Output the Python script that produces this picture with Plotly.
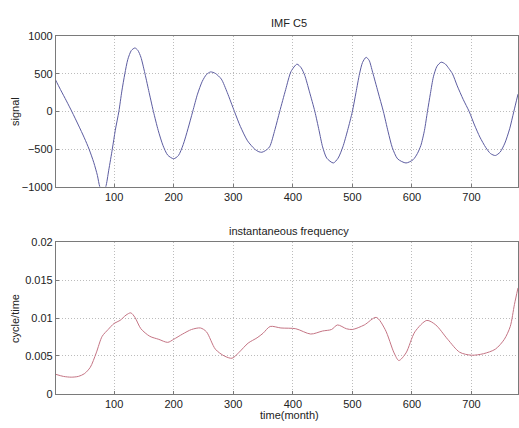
import plotly.graph_objects as go

# ---- data ----
sig_x = [1, 10, 20, 29, 40, 50, 58, 66, 72, 76, 81, 86, 91, 97, 102, 108, 113, 118, 123, 129,
         135, 140, 145, 151, 158, 166, 174, 182, 190, 200, 208, 216, 224, 232, 240, 248, 255,
         262, 270, 280, 290, 302, 312, 324, 336, 343, 348, 354, 361, 370, 378, 388, 397, 407,
         414, 420, 428, 437, 444, 450, 457, 468, 476, 484, 492, 500, 506, 512, 517, 523, 528,
         534, 543, 552, 560, 567, 576, 590, 602, 609, 615, 621, 626, 631, 636, 642, 649, 656,
         662, 668, 676, 686, 696, 705, 714, 724, 732, 740, 748, 756, 764, 771, 778]
sig_y = [430, 290, 140, 0, -180, -350, -500, -680, -850, -1000, -1070, -1000, -780, -500, -250,
         0, 270, 500, 690, 810, 843, 810, 720, 530, 280, 0, -250, -450, -580, -628, -585, -440,
         -230, 0, 230, 400, 490, 525, 505, 430, 250, 0, -200, -390, -500, -535, -542, -520,
         -470, -240, 0, 290, 530, 628, 580, 480, 260, 0, -250, -470, -620, -684, -620, -470,
         -250, 0, 250, 500, 650, 719, 680, 520, 260, 0, -270, -480, -630, -684, -640, -560,
         -450, -250, 0, 240, 460, 600, 654, 630, 570, 500, 340, 160, 0, -180, -340, -480, -560,
         -585, -540, -420, -230, 0, 230]

frq_x = [1, 15, 28, 40, 50, 60, 70, 80, 90, 100, 110, 120, 128, 135, 145, 160, 175, 190, 200,
         215, 230, 245, 255, 270, 285, 298, 310, 325, 340, 350, 362, 380, 405, 430, 450, 465,
         475, 490, 500, 520, 540, 555, 570, 578, 590, 605, 625, 640, 660, 680, 700, 720, 740,
         755, 765, 772, 778]
frq_y = [0.0026, 0.0023, 0.0022, 0.0023, 0.00265, 0.0035, 0.0054, 0.0076, 0.0085, 0.0093,
         0.0097, 0.0104, 0.0107, 0.0101, 0.0086, 0.0076, 0.0072, 0.0068, 0.0072, 0.0079,
         0.0085, 0.0087, 0.0082, 0.0059, 0.0050, 0.0047, 0.0055, 0.0067, 0.0074, 0.0080,
         0.0089, 0.0087, 0.0086, 0.0079, 0.0083, 0.0085, 0.0091, 0.0086, 0.0085, 0.0091,
         0.0101, 0.0085, 0.0054, 0.0044, 0.0054, 0.0082, 0.0097, 0.0091, 0.0072, 0.0055,
         0.0051, 0.0053, 0.0059, 0.0072, 0.0089, 0.0118, 0.0140]

x_ticks = [100, 200, 300, 400, 500, 600, 700]
sig_ticks = [-1000, -500, 0, 500, 1000]
frq_ticks = [0, 0.005, 0.01, 0.015, 0.02]
frq_tick_text = ["0", "0.005", "0.01", "0.015", "0.02"]

W, H = 519, 428
FONT = "Liberation Sans, Arial, sans-serif"

fig = go.Figure()
fig.add_trace(go.Scatter(x=sig_x, y=sig_y, mode="lines",
                         line=dict(color="#5c5ca0", width=1, shape="spline", smoothing=0.7),
                         xaxis="x", yaxis="y", showlegend=False))
fig.add_trace(go.Scatter(x=frq_x, y=frq_y, mode="lines",
                         line=dict(color="#c47484", width=1, shape="spline", smoothing=0.8),
                         xaxis="x2", yaxis="y2", showlegend=False))

xdom = [56 / W, 1.0]
ax_common = dict(showline=True, mirror=True, linecolor="#7a7a7a", linewidth=1,
                 showgrid=True, gridcolor="#bcbcbc", griddash="1px,2px", gridwidth=1,
                 ticks="inside", ticklen=3, tickcolor="#7a7a7a", zeroline=False,
                 tickfont=dict(family=FONT, size=11, color="#222"))

fig.update_layout(
    width=W, height=H, margin=dict(l=0, r=0, t=0, b=0),
    paper_bgcolor="white", plot_bgcolor="white",
    xaxis=dict(domain=xdom, range=[2.3, 778], tickvals=x_ticks, anchor="y", **ax_common),
    yaxis=dict(domain=[1 - 186 / H, 1 - 31 / H], range=[-1000, 1000], tickvals=sig_ticks, anchor="x", **ax_common),
    xaxis2=dict(domain=xdom, range=[2.3, 778], tickvals=x_ticks, anchor="y2", **ax_common),
    yaxis2=dict(domain=[1 - 399 / H, 1 - 243.3 / H], range=[0, 0.02], tickvals=frq_ticks,
                ticktext=frq_tick_text, anchor="x2", **ax_common),
)

def ann(text, x, y, angle=0):
    fig.add_annotation(text=text, x=x / W, y=1 - y / H, xref="paper", yref="paper",
                       showarrow=False, textangle=angle, xanchor="center", yanchor="middle",
                       font=dict(family=FONT, size=11, color="#222"))

ann("IMF C5", 290, 18)
ann("instantaneous frequency", 290, 232)
ann("time(month)", 290, 421)
ann("signal", 15, 108, -90)
ann("cycle/time", 15, 321, -90)

fig.write_html("out.html")
